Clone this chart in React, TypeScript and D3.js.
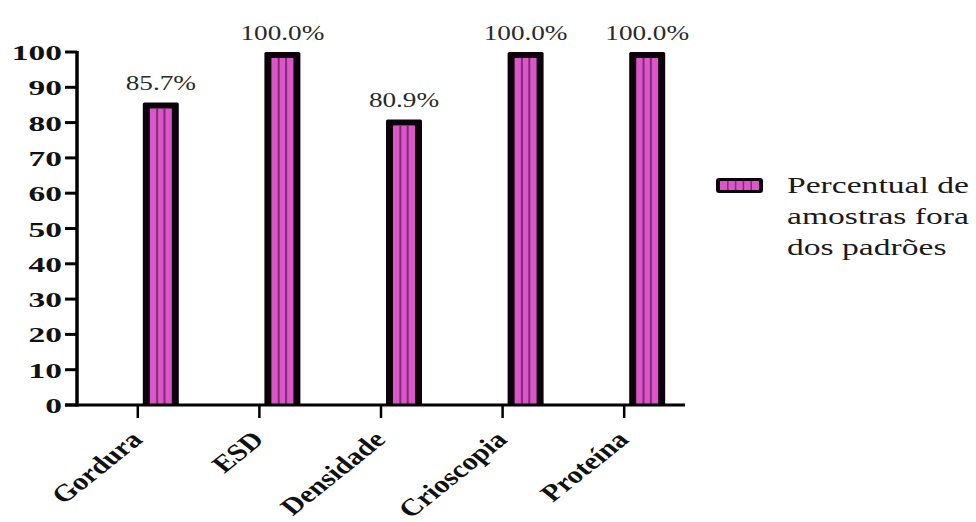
import React, { useEffect } from "react";
import * as d3 from "d3";

const categories = ["Gordura", "ESD", "Densidade", "Crioscopia", "Proteína"];
const values = [85.7, 100.0, 80.9, 100.0, 100.0];
const valueLabels = ["85.7%", "100.0%", "80.9%", "100.0%", "100.0%"];
const yTicks = [0, 10, 20, 30, 40, 50, 60, 70, 80, 90, 100];
const legendLines = ["Percentual de", "amostras fora", "dos padrões"];

const W = 976;
const H = 522;
const FONT = "'Liberation Serif', 'Times New Roman', serif";

const PINK = "#d957c6";
const STRIPE = "#86287c";
const EDGE = "#0c0209";

const x = d3.scaleBand<string>().domain(categories).range([77, 685]);
const y = d3.scaleLinear().domain([0, 100]).range([405, 52]);

const BAR_W = 36;
const BAR_SHIFT = 5; // bars sit just right of each category tick

function Bar({ cat, v }: { cat: string; v: number }) {
  const cx = (x(cat) ?? 0) + x.bandwidth() / 2;
  const x0 = cx + BAR_SHIFT;
  const top = y(v);
  const base = y(0);
  const inL = x0 + 7;
  const inW = BAR_W - 14;
  const inT = top + 6;
  const stripes = [1, 2].map((k) => inL + (inW * k) / 3);
  return (
    <g>
      <rect x={x0} y={top} width={BAR_W} height={base - top} fill={EDGE} rx={1.5} />
      <rect x={inL} y={inT} width={inW} height={base - inT} fill={PINK} />
      {stripes.map((sx, i) => (
        <line key={i} x1={sx} x2={sx} y1={inT} y2={base} stroke={STRIPE} strokeWidth={2} />
      ))}
    </g>
  );
}

export default function App() {
  useEffect(() => {
    document.body.style.margin = "0";
  }, []);

  const base = y(0);

  return (
    <svg width={W} height={H} style={{ display: "block", background: "#ffffff" }}>
      {/* bars */}
      {categories.map((c, i) => (
        <Bar key={c} cat={c} v={values[i]} />
      ))}

      {/* value labels */}
      {categories.map((c, i) => {
        const cx = (x(c) ?? 0) + x.bandwidth() / 2 + BAR_SHIFT + BAR_W / 2;
        return (
          <text
            key={c}
            transform={`translate(${cx},${y(values[i]) - 12}) scale(1.36,1)`}
            textAnchor="middle"
            fontFamily={FONT}
            fontSize={20}
            fill="#2a2a2a"
          >
            {valueLabels[i]}
          </text>
        );
      })}

      {/* y axis */}
      <line x1={77} x2={77} y1={y(100) - 1} y2={base + 1.5} stroke="#000" strokeWidth={3.5} />
      {yTicks.map((t) => (
        <g key={t}>
          <line x1={65} x2={77} y1={y(t)} y2={y(t)} stroke="#000" strokeWidth={3} />
          <text
            transform={`translate(62,${y(t) + 8}) scale(1.52,1)`}
            textAnchor="end"
            fontFamily={FONT}
            fontWeight="bold"
            fontSize={22}
            fill="#111"
          >
            {t}
          </text>
        </g>
      ))}

      {/* x axis */}
      <line x1={65} x2={685} y1={base} y2={base} stroke="#000" strokeWidth={3} />
      {categories.map((c) => {
        const tx = (x(c) ?? 0) + x.bandwidth() / 2;
        return (
          <g key={c}>
            <line x1={tx} x2={tx} y1={base} y2={base + 13} stroke="#000" strokeWidth={2.5} />
            <text
              transform={`translate(${tx + 6},${base + 36}) scale(1.25,1) rotate(-45)`}
              textAnchor="end"
              fontFamily={FONT}
              fontWeight="bold"
              fontSize={24}
              fill="#111"
            >
              {c}
            </text>
          </g>
        );
      })}

      {/* legend */}
      <g>
        <rect x={716} y={178} width={47} height={15} rx={3} fill={EDGE} />
        <rect x={720} y={181} width={39} height={9} fill={PINK} />
        {[1, 2, 3, 4].map((k) => (
          <line
            key={k}
            x1={720 + (39 * k) / 5}
            x2={720 + (39 * k) / 5}
            y1={181}
            y2={190}
            stroke={STRIPE}
            strokeWidth={1.5}
          />
        ))}
        {legendLines.map((s, i) => (
          <text
            key={s}
            transform={`translate(787,${193 + i * 31}) scale(1.4,1)`}
            fontFamily={FONT}
            fontSize={24}
            fill="#1a1a1a"
          >
            {s}
          </text>
        ))}
      </g>
    </svg>
  );
}
